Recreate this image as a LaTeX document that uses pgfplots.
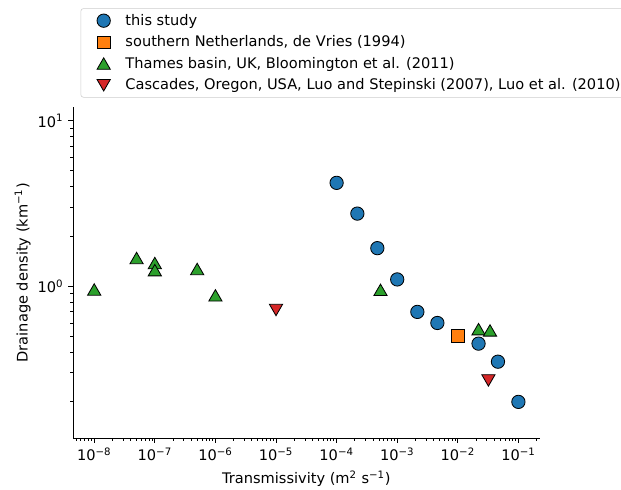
\documentclass[border=0pt]{standalone}
\usepackage{fontspec}
\setmainfont{DejaVu Sans}
\usepackage{pgfplots}
\pgfplotsset{compat=1.18}
\definecolor{tabblue}{HTML}{1F77B4}
\definecolor{taborange}{HTML}{FF7F0E}
\definecolor{tabgreen}{HTML}{2CA02C}
\definecolor{tabred}{HTML}{D62728}
\newcommand{\tp}[1]{10\textsuperscript{#1}}
\begin{document}
\begin{tikzpicture}[font=\fontsize{10.5}{12.5}\selectfont]
\useasboundingbox (-52.6pt,-37.4pt) rectangle (394.6pt,315.4pt);
\clip (-52.6pt,-37.4pt) rectangle (394.6pt,315.4pt);
\begin{axis}[
  at={(0,0)}, anchor=south west,
  scale only axis, width=336pt, height=238pt,
  xmode=log, ymode=log,
  xmin=4.47e-9, xmax=0.224, ymin=0.121, ymax=12.05,
  axis lines*=left, axis line style={-, line width=0.6pt},
  tick align=outside, major tick length=3.5pt, minor tick length=2pt,
  every tick/.style={black, line width=0.6pt},
  xtick={1e-8,1e-7,1e-6,1e-5,1e-4,1e-3,1e-2,1e-1},
  xticklabels={\tp{−8},\tp{−7},\tp{−6},\tp{−5},\tp{−4},\tp{−3},\tp{−2},\tp{−1}},
  minor xtick={5e-9,6e-9,7e-9,8e-9,9e-9,
    2e-8,3e-8,4e-8,5e-8,6e-8,7e-8,8e-8,9e-8,
    2e-7,3e-7,4e-7,5e-7,6e-7,7e-7,8e-7,9e-7,
    2e-6,3e-6,4e-6,5e-6,6e-6,7e-6,8e-6,9e-6,
    2e-5,3e-5,4e-5,5e-5,6e-5,7e-5,8e-5,9e-5,
    2e-4,3e-4,4e-4,5e-4,6e-4,7e-4,8e-4,9e-4,
    2e-3,3e-3,4e-3,5e-3,6e-3,7e-3,8e-3,9e-3,
    2e-2,3e-2,4e-2,5e-2,6e-2,7e-2,8e-2,9e-2,
    2e-1},
  ytick={1,10},
  yticklabels={\tp{0},\tp{1}},
  minor ytick={0.2,0.3,0.4,0.5,0.6,0.7,0.8,0.9,2,3,4,5,6,7,8,9},
  xlabel={Transmissivity (m\textsuperscript{2} s\textsuperscript{−1})},
  ylabel={Drainage density (km\textsuperscript{−1})},
  ylabel shift=-2pt,
  clip=false,
  legend cell align=left,
  legend style={at={(0.016,1.03)}, anchor=south west, draw=black!20,
    rounded corners=2pt, row sep=2pt, inner xsep=11.7pt, inner ysep=2pt,
    font=\fontsize{10.5}{12.5}\selectfont,
    /tikz/every odd column/.append style={column sep=8.9pt}},
]
\addplot[only marks, mark=*, mark size=4.8pt,
  mark options={fill=tabblue, draw=black, line width=0.6pt}]
  coordinates {(1e-4,4.22) (2.2e-4,2.75) (4.7e-4,1.70) (1e-3,1.10)
    (2.15e-3,0.70) (4.6e-3,0.60) (2.2e-2,0.45) (4.6e-2,0.35) (0.1,0.20)};
\addlegendentry{this study}
\addplot[only marks, mark=square*, mark size=4.5pt,
  mark options={fill=taborange, draw=black, line width=0.6pt}]
  coordinates {(1e-2,0.50)};
\addlegendentry{southern Netherlands, de Vries (1994)}
\addplot[only marks, mark=triangle*, mark size=5.5pt,
  mark options={fill=tabgreen, draw=black, line width=0.6pt, yshift=-1.3pt}]
  coordinates {(1e-8,0.955) (5e-8,1.48) (1e-7,1.38) (1e-7,1.25) (5e-7,1.27)
    (1e-6,0.88) (5.3e-4,0.95) (2.2e-2,0.55) (3.4e-2,0.54)};
\addlegendentry{Thames basin, UK, Bloomington et al. (2011)}
\addplot[only marks, mark=triangle*, mark size=5.5pt,
  mark options={fill=tabred, draw=black, line width=0.6pt, rotate=180, yshift=-1.3pt}]
  coordinates {(1e-5,0.72) (3.2e-2,0.27)};
\addlegendentry{Cascades, Oregon, USA, Luo and Stepinski (2007), Luo et al. (2010)}
\end{axis}
\end{tikzpicture}
\end{document}
